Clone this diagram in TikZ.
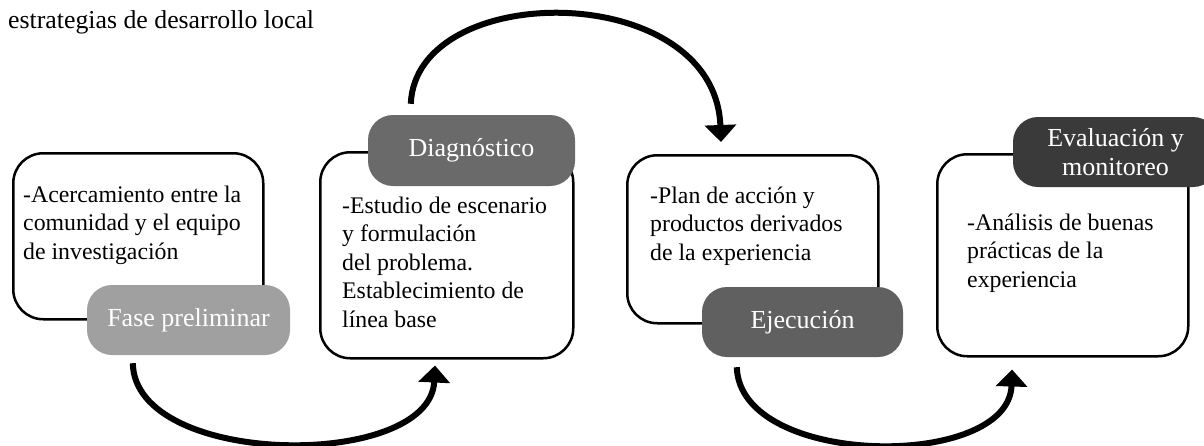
\documentclass[tikz,border=0pt]{standalone}
\usepackage{fontspec}
\setmainfont{Liberation Serif}
\usetikzlibrary{arrows.meta}
\definecolor{pillA}{RGB}{160,160,160}
\definecolor{pillB}{RGB}{106,106,106}
\definecolor{pillC}{RGB}{96,96,96}
\definecolor{pillD}{RGB}{58,58,58}
\tikzset{
  box/.style={draw=black, line width=2.5pt, fill=white, rounded corners=30pt,
    inner sep=0pt, anchor=north west},
  pill/.style={rounded corners=25pt, inner sep=0pt, text=white,
    font=\fontsize{26}{28.5}\selectfont, align=center},
  body/.style={inner sep=0pt, anchor=north west, align=left,
    font=\fontsize{23.8}{28.5}\selectfont},
  flow/.style={line width=6pt, -{Triangle[width=31pt,length=17pt]}},
}
\begin{document}
\begin{tikzpicture}[x=1pt,y=-1pt]
\useasboundingbox (0,0) rectangle (1204,445);
\fill[white] (0,0) rectangle (1204,445);
% caption
\node[inner sep=0pt, anchor=base west, font=\fontsize{25.8}{28}\selectfont] (cap) at (8,28) {estrategias de desarrollo local};
% boxes
\node[box, minimum width=250pt, minimum height=166pt] (box1) at (12,152) {};
\node[box, minimum width=253pt, minimum height=206pt] (box2) at (319,151) {};
\node[box, minimum width=251pt, minimum height=168pt] (box3) at (626,154) {};
\node[box, minimum width=251pt, minimum height=202pt] (box4) at (936,153) {};
% texts
\node[body] (t1) at (23,180) {\rule{0pt}{22pt}-Acercamiento entre la\\comunidad y el equipo\\de investigación};
\node[body] (t2) at (342,191) {\rule{0pt}{22pt}-Estudio de escenario\\y formulación\\del problema.\\Establecimiento de\\línea base};
\node[body] (t3) at (650,181) {\rule{0pt}{22pt}-Plan de acción y\\productos derivados\\de la experiencia};
\node[body] (t4) at (967,208) {\rule{0pt}{22pt}-Análisis de buenas\\prácticas de la\\experiencia};
% pills
\node[pill, fill=pillA, minimum width=203pt, minimum height=70pt, text height=18pt, text depth=6pt] (lab1) at (188.5,320) {Fase preliminar};
\node[pill, fill=pillB, minimum width=207pt, minimum height=71pt, text height=18pt, text depth=6pt] (lab2) at (471.5,150.5) {Diagnóstico};
\node[pill, fill=pillC, minimum width=201pt, minimum height=70pt, text height=18pt, text depth=6pt] (lab3) at (802.5,322) {Ejecución};
\node[pill, fill=pillD, minimum width=205pt, minimum height=70pt] (lab4) at (1115.5,152) {Evaluación y\\monitoreo};
% arrows
\draw[flow] ([xshift=46pt,yshift=-8pt]lab1.south west) .. controls +(2,105) and +(-5,105) .. ([xshift=116pt,yshift=-6pt]box2.south west);
\draw[flow] ([xshift=43pt,yshift=11pt]lab2.north west) .. controls +(5,-125) and +(-6,-163) .. ([xshift=95pt,yshift=12pt]box3.north west);
\draw[flow] ([xshift=35pt,yshift=-10pt]lab3.south west) .. controls +(3,101) and +(-3,101) .. ([xshift=76pt,yshift=-12pt]box4.south west);
\end{tikzpicture}
\end{document}
